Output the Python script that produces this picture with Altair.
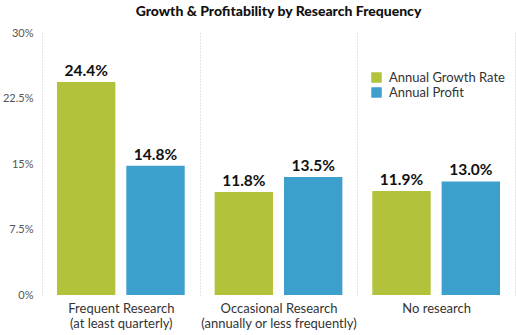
import altair as alt
import pandas as pd

categories = ["Frequent Research|(at least quarterly)",
              "Occasional Research|(annually or less frequently)",
              "No research"]
series = ["Annual Growth Rate", "Annual Profit"]
growth = [24.4, 11.8, 11.9]
profit = [14.8, 13.5, 13.0]
y_ticks = [0, 7.5, 15, 22.5, 30]

rows = []
for c, g, p in zip(categories, growth, profit):
    rows.append({"cat": c, "series": series[0], "value": g})
    rows.append({"cat": c, "series": series[1], "value": p})
df = pd.DataFrame(rows)
df["label"] = df["value"].map(lambda v: f"{v:.1f}%")

FONT = "Lato"
colors = ["#b3c23b", "#3d9fcc"]

x = alt.X("cat:N", sort=categories, title=None,
          scale=alt.Scale(paddingInner=0, paddingOuter=0),
          axis=alt.Axis(labelExpr="split(datum.label, '|')", labelAngle=0,
                        labelFont=FONT, labelFontSize=13, labelColor="#333",
                        labelPadding=7, labelLineHeight=15,
                        ticks=False, domain=False, grid=True, tickBand="extent",
                        gridColor="#c8c8c8", gridDash=[1, 2], gridWidth=1))
xoff = alt.XOffset("series:N", sort=series,
                   scale=alt.Scale(paddingInner=0.158, paddingOuter=0.216))
y = alt.Y("value:Q", title=None,
          scale=alt.Scale(domain=[0, 30], nice=False),
          axis=alt.Axis(values=y_ticks, labelExpr="datum.value + '%'",
                        labelFont=FONT, labelFontSize=11, labelColor="#555",
                        ticks=False, domain=False, grid=False, labelPadding=9))

base = alt.Chart(df)
bars = base.mark_bar().encode(
    x=x, xOffset=xoff, y=y,
    color=alt.Color("series:N", sort=series,
                    scale=alt.Scale(domain=series, range=colors),
                    legend=alt.Legend(title=None, orient="none", legendX=328, legendY=38,
                                      symbolType="square", symbolSize=110,
                                      symbolStrokeWidth=0, symbolOpacity=1,
                                      labelFont=FONT, labelFontSize=13,
                                      labelColor="#333", rowPadding=1,
                                      labelOffset=6))
)
text = base.mark_text(font=FONT, fontSize=15.5, fontWeight="bold",
                      color="#111", baseline="bottom", dy=-3).encode(
    x=alt.X("cat:N", sort=categories), xOffset=alt.XOffset("series:N", sort=series),
    y="value:Q", text="label:N"
)

chart = (bars + text).properties(
    width=473, height=262,
    title=alt.TitleParams("Growth & Profitability by Research Frequency",
                          font=FONT, fontSize=14, fontWeight=900,
                          color="#111", anchor="middle", offset=8),
    autosize=alt.AutoSizeParams(type="none"),
    padding={"left": 42, "top": 33, "right": 2, "bottom": 40},
).configure_view(stroke=None)

chart.save("out.html", embed_options={"renderer": "svg", "actions": False})
